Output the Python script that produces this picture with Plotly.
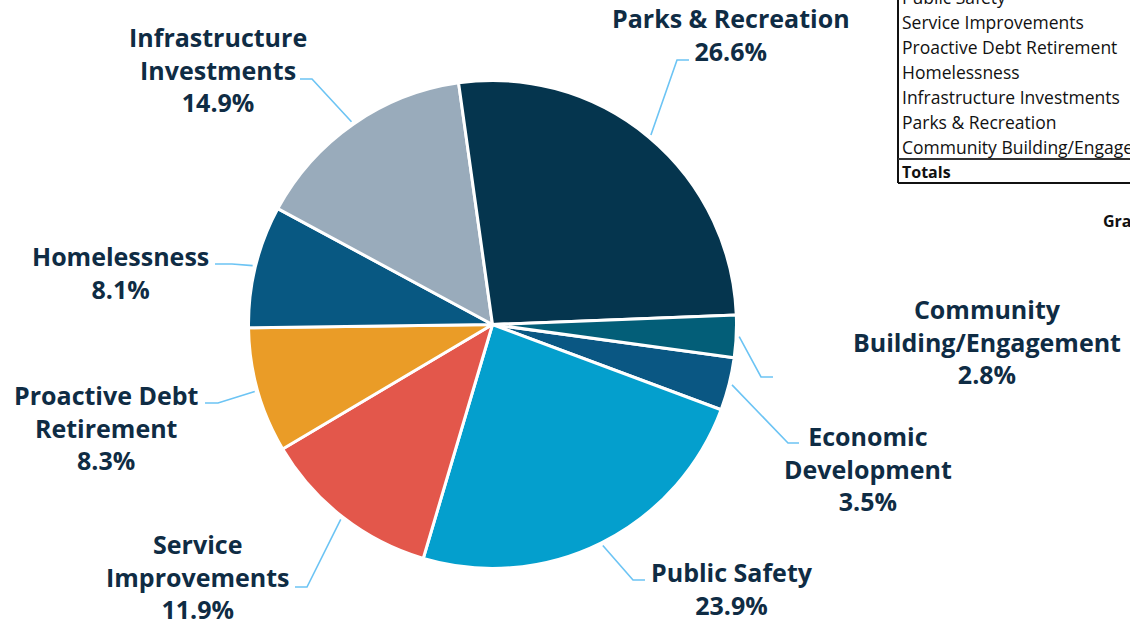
import math
import plotly.graph_objects as go

# Budget allocation by category (share of total, %)
categories = [
    "Economic Development",
    "Public Safety",
    "Service Improvements",
    "Proactive Debt Retirement",
    "Homelessness",
    "Infrastructure Investments",
    "Parks & Recreation",
    "Community Building/Engagement",
]
shares = [3.5, 23.9, 11.9, 8.3, 8.1, 14.9, 26.6, 2.8]
slice_colors = ["#0a5783", "#049fcd", "#e3574b", "#ea9c27",
                "#085882", "#99abbb", "#05354e", "#035e78"]

# How each category name wraps in its outside label
wrapped_names = {
    "Economic Development": "Economic<br>Development",
    "Public Safety": "Public Safety",
    "Service Improvements": "Service<br>Improvements",
    "Proactive Debt Retirement": "Proactive Debt<br>Retirement",
    "Homelessness": "Homelessness",
    "Infrastructure Investments": "Infrastructure<br>Investments",
    "Parks & Recreation": "Parks & Recreation",
    "Community Building/Engagement": "Community<br>Building/Engagement",
}

# Label block centre (x, y) and leader-line elbow (x, y) plus the end of the
# short horizontal tick, all in pixels
label_layout = {
    "Economic Development": (868, 468, 788, 443, 799),
    "Public Safety": (732, 588, 633, 580, 645),
    "Service Improvements": (198, 576, 307, 587, 295),
    "Proactive Debt Retirement": (106, 427, 218, 403, 205),
    "Homelessness": (120, 273, 232, 264, 215),
    "Infrastructure Investments": (218, 70, 312, 79, 300),
    "Parks & Recreation": (731, 34, 677, 60, 689),
    "Community Building/Engagement": (987, 342, 761, 377, 773),
}

W, H = 1130, 622
CX, CY, R = 492.5, 324.5, 244
ROTATION = 97.85  # start angle of the first slice, clockwise from 12 o'clock

LABEL_COLOR = "#0f2c44"
LEADER_COLOR = "#6cc4f4"


def px_x(x):
    return x / W


def px_y(y):
    return 1 - y / H


fig = go.Figure()

fig.add_trace(go.Pie(
    labels=categories,
    values=shares,
    sort=False,
    direction="clockwise",
    rotation=ROTATION,
    marker=dict(colors=slice_colors, line=dict(color="white", width=3)),
    textinfo="none",
    hoverinfo="label+percent",
    showlegend=False,
    domain=dict(x=[(CX - R) / W, (CX + R) / W],
                y=[1 - (CY + R) / H, 1 - (CY - R) / H]),
))

shapes = []
annotations = []

# Outside labels with elbow leader lines, anchored at each slice's mid-angle
cum = 0.0
total = sum(shares)
for name, v in zip(categories, shares):
    mid = math.radians(ROTATION + 360.0 * (cum + v / 2) / total)
    cum += v
    sx = CX + (R + 3) * math.sin(mid)
    sy = CY - (R + 3) * math.cos(mid)
    lx, ly, ex, ey, hx = label_layout[name]
    shapes.append(dict(
        type="path", xref="paper", yref="paper",
        path=(f"M {px_x(sx):.5f},{px_y(sy):.5f} "
              f"L {px_x(ex):.5f},{px_y(ey):.5f} L {px_x(hx):.5f},{px_y(ey):.5f}"),
        line=dict(color=LEADER_COLOR, width=1.6),
    ))
    annotations.append(dict(
        x=px_x(lx), y=px_y(ly), xref="paper", yref="paper",
        text=f"{wrapped_names[name]}<br>{v:.1f}%",
        showarrow=False, xanchor="center", yanchor="middle", align="center",
        font=dict(family="Open Sans", size=25, color=LABEL_COLOR, weight=700),
    ))

# Summary table at the upper right (runs past the right and top edges)
TABLE_X = 898
ROW_H = 25
first_row_y = -28
TABLE_FONT = 17.5
for k, name in enumerate(categories):
    annotations.append(dict(
        x=px_x(TABLE_X + 2), y=px_y(first_row_y + k * ROW_H),
        xref="paper", yref="paper",
        text=name, showarrow=False, xanchor="left", yanchor="middle",
        font=dict(family="Open Sans", size=TABLE_FONT, color="#111111"),
    ))
totals_y = first_row_y + len(categories) * ROW_H
annotations.append(dict(
    x=px_x(TABLE_X + 2), y=px_y(totals_y), xref="paper", yref="paper",
    text="Totals", showarrow=False, xanchor="left", yanchor="middle",
    font=dict(family="Open Sans", size=16, color="#111111", weight=700),
))
sep_y = totals_y - 13
bottom_y = totals_y + 11
shapes += [
    dict(type="line", xref="paper", yref="paper",
         x0=px_x(TABLE_X), x1=px_x(TABLE_X), y0=px_y(-10), y1=px_y(bottom_y),
         line=dict(color="#111111", width=2)),
    dict(type="line", xref="paper", yref="paper",
         x0=px_x(TABLE_X), x1=px_x(W + 10), y0=px_y(sep_y), y1=px_y(sep_y),
         line=dict(color="#333333", width=2)),
    dict(type="line", xref="paper", yref="paper",
         x0=px_x(TABLE_X), x1=px_x(W + 10), y0=px_y(bottom_y), y1=px_y(bottom_y),
         line=dict(color="#111111", width=2)),
]
annotations.append(dict(
    x=px_x(1101), y=px_y(221), xref="paper", yref="paper",
    text="Gra", showarrow=False, xanchor="left", yanchor="middle",
    font=dict(family="Open Sans", size=16, color="#111111", weight=700),
))

fig.update_layout(
    width=W, height=H,
    margin=dict(l=0, r=0, t=0, b=0),
    paper_bgcolor="white", plot_bgcolor="rgba(0,0,0,0)",
    shapes=shapes,
    annotations=annotations,
)

fig.write_html("out.html")
